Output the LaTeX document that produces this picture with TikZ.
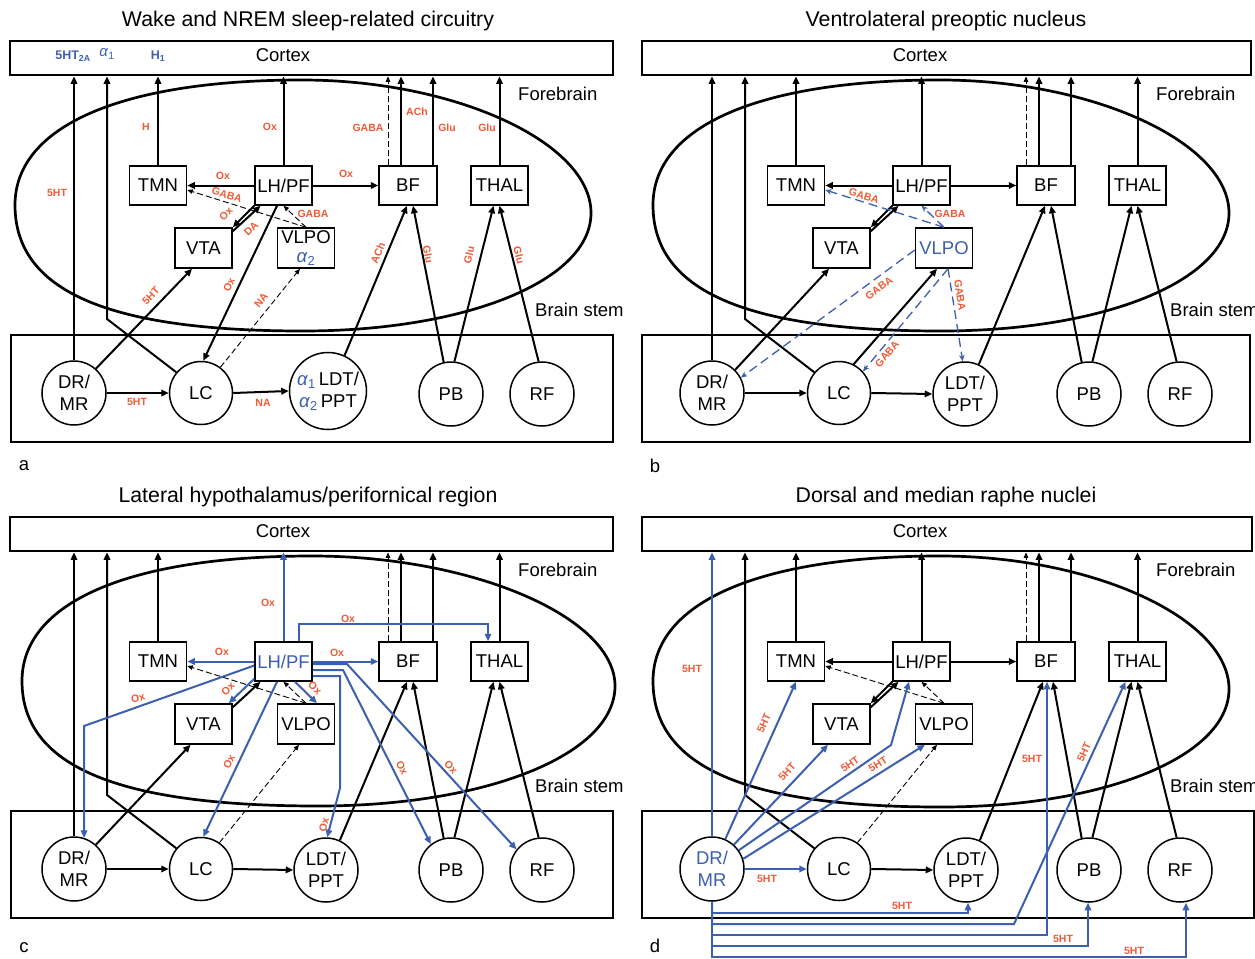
\documentclass[tikz,border=0pt]{standalone}
\usepackage{fontspec}
\setmainfont{Liberation Sans}
\usetikzlibrary{arrows.meta,calc}
\definecolor{myred}{RGB}{240,90,55}
\definecolor{myblue}{RGB}{60,95,175}
\newcommand\nfont{\fontsize{18.5}{22}\selectfont}
\newcommand\lfont{\fontsize{10.5}{12}\selectfont\bfseries}
\newcommand\tfont{\fontsize{21.3}{25}\selectfont}
\newcommand\bfnt{\fontsize{12.5}{14}\selectfont\bfseries}
\newcommand\alf[1]{\textcolor{myblue}{\textit{α}\textsubscript{#1}}}
\tikzset{
 box/.style={draw, fill=white, line width=1.5pt, minimum width=57pt, minimum height=39pt, inner sep=0pt, align=center, font=\nfont},
 circ/.style={draw, fill=white, circle, line width=1.5pt, minimum size=64pt, inner sep=0pt, align=center, font=\nfont},
 frame/.style={draw, line width=2.8pt, inner sep=0pt},
 ell/.style={line width=2.7pt},
 con/.style={line width=2pt, -{Triangle[length=7.5pt,width=6.5pt]}},
 dcon/.style={line width=0.9pt, dash pattern=on 6pt off 3pt, -{Triangle[length=5.5pt,width=4.5pt]}},
 bcon/.style={con, draw=myblue},
 bdcon/.style={line width=1.3pt, draw=myblue, dash pattern=on 9pt off 5pt, -{Stealth[length=6.5pt,width=5.5pt]}},
 lab/.style={font=\lfont, text=myred, inner sep=0pt},
 blab/.style={font=\bfnt, text=myblue, inner sep=0pt},
 txt/.style={font=\nfont, inner sep=0pt},
 ttl/.style={font=\tfont, inner sep=0pt},
}
\newcommand\brainpath[8]{%
 \draw[ell] (#1,#2) .. controls +(0,{-0.63*(#2-#4)}) and +({-0.63*(#3-#1)},0) .. (#3,#4)
   .. controls +({0.53*(#5-#3)},0) and +(0,{-0.53*(#6-#4)}) .. (#5,#6)
   .. controls +(0,{0.57*(#8-#6)}) and +({0.57*(#5-#7)},0) .. (#7,#8)
   .. controls +({-0.68*(#7-#1)},0) and +(0,{0.68*(#8-#2)}) .. (#1,#2) -- cycle;}
\newcommand\mknodes[3]{%
 \node[box] (tmn) at (158,185.5) {TMN};
 \node[box] (lhpf) at (283.5,185.5) {#1};
 \node[box, minimum width=58pt] (bf) at (408,185.5) {BF};
 \node[box] (thal) at (499.5,185.5) {THAL};
 \node[box, minimum height=40pt] (vta) at (203.5,248) {VTA};
 \node[box, minimum height=40pt] (vlpo) at (306,248) {#2};
 \node[circ] (dr) at (74,393) {#3};
 \node[circ, minimum size=63pt] (lc) at (201,393) {LC};
 \node[circ] (pb) at (451,394) {PB};
 \node[circ] (rf) at (542,394) {RF};}
\newcommand\upcons{%
 \coordinate (lcb) at (107,319);
 \draw[con] (lc.140) -- (lcb) -- (lcb |- ctx.south);
 \draw[con] (tmn.north) -- (tmn.north |- ctx.south);
 \draw[dcon] ([xshift=-20pt]bf.north) -- ([xshift=-20pt]bf.north |- ctx.south);
 \draw[con] ([xshift=-7pt]bf.north) -- ([xshift=-7pt]bf.north |- ctx.south);
 \draw[con] ([xshift=25pt]bf.north) -- ([xshift=25pt]bf.north |- ctx.south);
 \draw[con] (thal.north) -- (thal.north |- ctx.south);}
\newcommand\brlabels[2]{%
 \node[txt] (ctxt) at (#1,55) {Cortex};
 \node[txt, anchor=west] (fbt) at (518,94) {Forebrain};
 \node[txt, anchor=west] (bst) at (#2,310) {Brain stem};}
\begin{document}
\begin{tikzpicture}[x=1pt,y=-1pt]
\useasboundingbox (0,0) rectangle (1255,958);
% titles and panel letters
\node[ttl] (ta) at (308,21) {Wake and NREM sleep-related circuitry};
\node[ttl] (tb) at (946,21) {Ventrolateral preoptic nucleus};
\node[ttl] (tc) at (308,497) {Lateral hypothalamus/perifornical region};
\node[ttl] (td) at (946,497) {Dorsal and median raphe nuclei};
\node[txt] (pa) at (24,466) {a};
\node[txt] (pbl) at (655,466) {b};
\node[txt] (pc) at (24,948) {c};
\node[txt] (pd) at (655,946) {d};

%================ panel a
\begin{scope}[name prefix=a-]
 \node[frame, minimum width=603pt, minimum height=34pt] (ctx) at (311.5,58) {};
 \node[frame, minimum width=602pt, minimum height=107pt] (stem) at (312,388.5) {};
 \brainpath{15}{205}{302}{80}{591}{213}{303}{331}
 \brlabels{283}{535}
 \mknodes{LH/PF}{VLPO\\[-3pt]\alf{2}}{DR/\\MR}
 \node[circ, minimum size=77pt] (ldt) at (328,391) {\alf{1}\,LDT/\\\alf{2}\,PPT};
 \node[blab] (t1) at (73,56) {5HT\textsubscript{2A}};
 \node[blab, font=\fontsize{15}{16}\selectfont] (t2) at (107,54) {\alf{1}};
 \node[blab] (t3) at (158,56) {H\textsubscript{1}};
 \draw[con] (dr.north) -- (dr.north |- ctx.south);
 \upcons
 \draw[con] (lhpf.north) -- (lhpf.north |- ctx.south);
 \draw[con] (lhpf.west) -- (tmn.east);
 \draw[con] (lhpf.east) -- (bf.west);
 \draw[con] (lhpf.south west) -- (vta.north east);
 \draw[con] ([yshift=-4pt]vta.north east) -- ([xshift=-23pt]lhpf.south);
 \draw[dcon] (vlpo.north) -- ([yshift=-4.5pt]tmn.east);
 \draw[dcon] (vlpo.north) -- (lhpf.south);
 \draw[con] ([xshift=-6.5pt]lhpf.south) -- (lc.86);
 \draw[dcon] (lc.53) -- ([xshift=-6pt]vlpo.south);
 \draw[con] (dr.48) -- ([xshift=-11.5pt]vta.south);
 \draw[con] (dr.east) -- (lc.west);
 \draw[con] (lc.east) -- (ldt.west);
 \draw[con] (ldt.65) -- ([xshift=-1pt]bf.south);
 \draw[con] (pb.103) -- ([xshift=5pt]bf.south);
 \draw[con] (pb.84) -- ([xshift=-6pt]thal.south);
 \draw[con] (rf.96) -- (thal.south);
 \node[lab] (l1) at (57,193) {5HT};
 \node[lab] (l2) at (146,127) {H};
 \node[lab] (l3) at (270,127) {Ox};
 \node[lab] (l4) at (368,128) {GABA};
 \node[lab] (l5) at (417,112) {ACh};
 \node[lab] (l6) at (447,128) {Glu};
 \node[lab] (l7) at (487,128) {Glu};
 \node[lab] (l8) at (223,176) {Ox};
 \node[lab] (l9) at (346,174) {Ox};
 \node[lab, rotate=-18] (l10) at (227,195) {GABA};
 \node[lab] (l11) at (313,214) {GABA};
 \node[lab, rotate=46] (l12) at (226,214) {Ox};
 \node[lab, rotate=44] (l13) at (251,229) {DA};
 \node[lab, rotate=65] (l14) at (229,285) {Ox};
 \node[lab, rotate=51] (l15) at (261,300) {NA};
 \node[lab, rotate=46] (l16) at (151,296) {5HT};
 \node[lab] (l17) at (137,402) {5HT};
 \node[lab] (l18) at (263,403) {NA};
 \node[lab, rotate=67] (l19) at (378,253) {ACh};
 \node[lab, rotate=-79] (l20) at (428,254) {Glu};
 \node[lab, rotate=76] (l21) at (469,255) {Glu};
 \node[lab, rotate=-76] (l22) at (519,255) {Glu};
\end{scope}

%================ panel b
\begin{scope}[shift={(638,0)}, name prefix=b-]
 \node[frame, minimum width=609pt, minimum height=34pt] (ctx) at (308.5,58) {};
 \node[frame, minimum width=608pt, minimum height=107pt] (stem) at (308,388.5) {};
 \brainpath{15}{205}{302}{80}{591}{213}{303}{331}
 \brlabels{282}{532}
 \mknodes{LH/PF}{\textcolor{myblue}{VLPO}}{DR/\\MR}
 \node[circ] (ldt) at (327,394) {LDT/\\PPT};
 \draw[con] (dr.north) -- (dr.north |- ctx.south);
 \upcons
 \draw[con] (lhpf.north) -- (lhpf.north |- ctx.south);
 \draw[con] (lhpf.west) -- (tmn.east);
 \draw[con] (lhpf.east) -- (bf.west);
 \draw[con] (lhpf.south west) -- (vta.north east);
 \draw[con] ([yshift=-4pt]vta.north east) -- ([xshift=-23pt]lhpf.south);
 \draw[con] (dr.45) -- ([xshift=-12.5pt]vta.south);
 \draw[con] (lc.63) -- ([xshift=-7pt]vlpo.south);
 \draw[con] (dr.east) -- (lc.west);
 \draw[con] (lc.east) -- (ldt.west);
 \draw[con] (ldt.65) -- ([xshift=-1pt]bf.south);
 \draw[con] (pb.103) -- ([xshift=5pt]bf.south);
 \draw[con] (pb.84) -- ([xshift=-6pt]thal.south);
 \draw[con] (rf.96) -- (thal.south);
 \draw[bdcon] (vlpo.north) -- ([yshift=-4.5pt]tmn.east);
 \draw[bdcon] (vlpo.north) -- (lhpf.south);
 \draw[bdcon] ([yshift=-2pt]vlpo.west) -- (dr.28);
 \draw[bdcon] ([xshift=4pt]vlpo.south) -- (lc.42);
 \draw[bdcon] ([xshift=4pt]vlpo.south) -- (ldt.94);
 \node[lab, rotate=-18] (l1) at (226,196) {GABA};
 \node[lab] (l2) at (312,214) {GABA};
 \node[lab, rotate=36] (l3) at (241,288) {GABA};
 \node[lab, rotate=50] (l4) at (249,354) {GABA};
 \node[lab, rotate=-81] (l5) at (322,295) {GABA};
\end{scope}

%================ panel c
\begin{scope}[shift={(0,476)}, name prefix=c-]
 \node[frame, minimum width=603pt, minimum height=34pt] (ctx) at (311.5,58) {};
 \node[frame, minimum width=602pt, minimum height=107pt] (stem) at (312,388.5) {};
 \brainpath{22}{205}{312}{80}{615}{210}{318}{330}
 \brlabels{283}{535}
 \mknodes{\textcolor{myblue}{LH/PF}}{VLPO}{DR/\\MR}
 \node[circ] (ldt) at (326,394) {LDT/\\PPT};
 \draw[con] (dr.north) -- (dr.north |- ctx.south);
 \upcons
 \draw[con] ([yshift=-4pt]vta.north east) -- ([xshift=-23pt]lhpf.south);
 \draw[dcon] (vlpo.north) -- ([yshift=-4.5pt]tmn.east);
 \draw[dcon] (vlpo.north) -- (lhpf.south);
 \draw[dcon] (lc.55) -- ([xshift=-7pt]vlpo.south);
 \draw[con] (dr.48) -- ([xshift=-13pt]vta.south);
 \draw[con] (dr.east) -- (lc.west);
 \draw[con] (lc.east) -- (ldt.west);
 \draw[con] (ldt.65) -- ([xshift=-1pt]bf.south);
 \draw[con] (pb.103) -- ([xshift=5pt]bf.south);
 \draw[con] (pb.84) -- ([xshift=-6pt]thal.south);
 \draw[con] (rf.96) -- (thal.south);
 % blue orexin projections
 \draw[bcon] (lhpf.north) -- (lhpf.north |- ctx.south);
 \draw[bcon] (lhpf.west) -- (tmn.east);
 \draw[bcon] (lhpf.east) -- (bf.west);
 \coordinate (c1) at (299,148);
 \coordinate (c2) at (488,148);
 \draw[bcon] (lhpf.north -| c1) -- (c1) -- (c2) -- (c2 |- thal.north);
 \coordinate (c3) at (84,250);
 \draw[bcon] ([yshift=-4pt]lhpf.west) -- (c3) -- (dr.72);
 \draw[bcon] ([yshift=3pt]lhpf.south west) -- ([xshift=-4pt]vta.north east);
 \draw[bcon] ([xshift=11.5pt]lhpf.south) -- ([xshift=11pt]vlpo.north);
 \draw[bcon] ([xshift=-6.5pt]lhpf.south) -- (lc.86);
 \coordinate (c4) at (340,200);
 \coordinate (c5) at (340,312);
 \draw[bcon] (lhpf.east |- c4) -- (c4) -- (c5) -- (ldt.88);
 \coordinate (c6) at (343,194);
 \draw[bcon] (lhpf.east |- c6) -- (c6) -- (pb.128);
 \coordinate (c7) at (347,188);
 \draw[bcon] (lhpf.east |- c7) -- (c7) -- (rf.141);
 \node[lab] (l1) at (268,127) {Ox};
 \node[lab] (l2) at (222,176) {Ox};
 \node[lab] (l3) at (337,177) {Ox};
 \node[lab] (l4) at (348,143) {Ox};
 \node[lab, rotate=20] (l5) at (138,222) {Ox};
 \node[lab, rotate=45] (l6) at (228,213) {Ox};
 \node[lab, rotate=-45] (l7) at (315,212) {Ox};
 \node[lab, rotate=65] (l8) at (229,286) {Ox};
 \node[lab, rotate=77] (l9) at (324,349) {Ox};
 \node[lab, rotate=-63] (l10) at (402,292) {Ox};
 \node[lab, rotate=-48] (l11) at (451,291) {Ox};
\end{scope}

%================ panel d
\begin{scope}[shift={(638,476)}, name prefix=d-]
 \node[frame, minimum width=610pt, minimum height=34pt] (ctx) at (309,58) {};
 \node[frame, minimum width=612pt, minimum height=107pt] (stem) at (310,388.5) {};
 \brainpath{15}{205}{302}{80}{591}{213}{303}{331}
 \brlabels{282}{532}
 \mknodes{LH/PF}{VLPO}{\textcolor{myblue}{DR/}\\\textcolor{myblue}{MR}}
 \node[circ] (ldt) at (328,394) {LDT/\\PPT};
 \upcons
 \draw[con] (lhpf.north) -- (lhpf.north |- ctx.south);
 \draw[con] (lhpf.west) -- (tmn.east);
 \draw[con] (lhpf.east) -- (bf.west);
 \draw[con] (lhpf.south west) -- (vta.north east);
 \draw[con] ([yshift=-4pt]vta.north east) -- ([xshift=-23pt]lhpf.south);
 \draw[dcon] (vlpo.north) -- ([yshift=-4.5pt]tmn.east);
 \draw[dcon] (vlpo.north) -- (lhpf.south);
 \draw[dcon] (lc.55) -- ([xshift=-7pt]vlpo.south);
 \draw[con] (lc.east) -- (ldt.west);
 \draw[con] (ldt.65) -- ([xshift=-3pt]bf.south);
 \draw[con] (pb.103) -- ([xshift=7pt]bf.south);
 \draw[con] (pb.84) -- ([xshift=-6pt]thal.south);
 \draw[con] (rf.96) -- (thal.south);
 % blue serotonergic projections
 \draw[bcon] (dr.north) -- (dr.north |- ctx.south);
 \draw[bcon] (dr.66) -- (tmn.south);
 \draw[bcon] (dr.48) -- ([xshift=-13.5pt]vta.south);
 \coordinate (d0) at (253,269);
 \draw[bcon] (dr.35) -- (d0) -- ([xshift=-12.5pt]lhpf.south);
 \draw[bcon] (dr.18) -- ([xshift=-19pt]vlpo.south);
 \draw[bcon] (dr.east) -- (lc.west);
 \coordinate (e1) at (330,437);
 \draw[bcon] (dr.south) |- (e1) -- (e1 |- ldt.south);
 \coordinate (e2) at (376,448);
 \draw[bcon] (dr.south) |- (e2) -- ([xshift=-12pt]thal.south);
 \coordinate (e3) at (409,459);
 \draw[bcon] (dr.south) |- (e3) -- (e3 |- bf.south);
 \coordinate (e4) at (450,470);
 \draw[bcon] (dr.south) |- (e4) -- (e4 |- pb.south);
 \coordinate (e5) at (548,481);
 \draw[bcon] (dr.south) |- (e5) -- (e5 |- rf.south);
 \node[lab] (l1) at (54,193) {5HT};
 \node[lab, rotate=66] (l2) at (126,247) {5HT};
 \node[lab, rotate=47] (l3) at (149,296) {5HT};
 \node[lab, rotate=34] (l4) at (212,288) {5HT};
 \node[lab, rotate=32] (l5) at (240,288) {5HT};
 \node[lab] (l6) at (129,403) {5HT};
 \node[lab] (l7) at (264,430) {5HT};
 \node[lab, rotate=65] (l8) at (446,276) {5HT};
 \node[lab] (l9) at (394,283) {5HT};
 \node[lab] (l10) at (425,463) {5HT};
 \node[lab] (l11) at (496,475) {5HT};
\end{scope}
\end{tikzpicture}
\end{document}
